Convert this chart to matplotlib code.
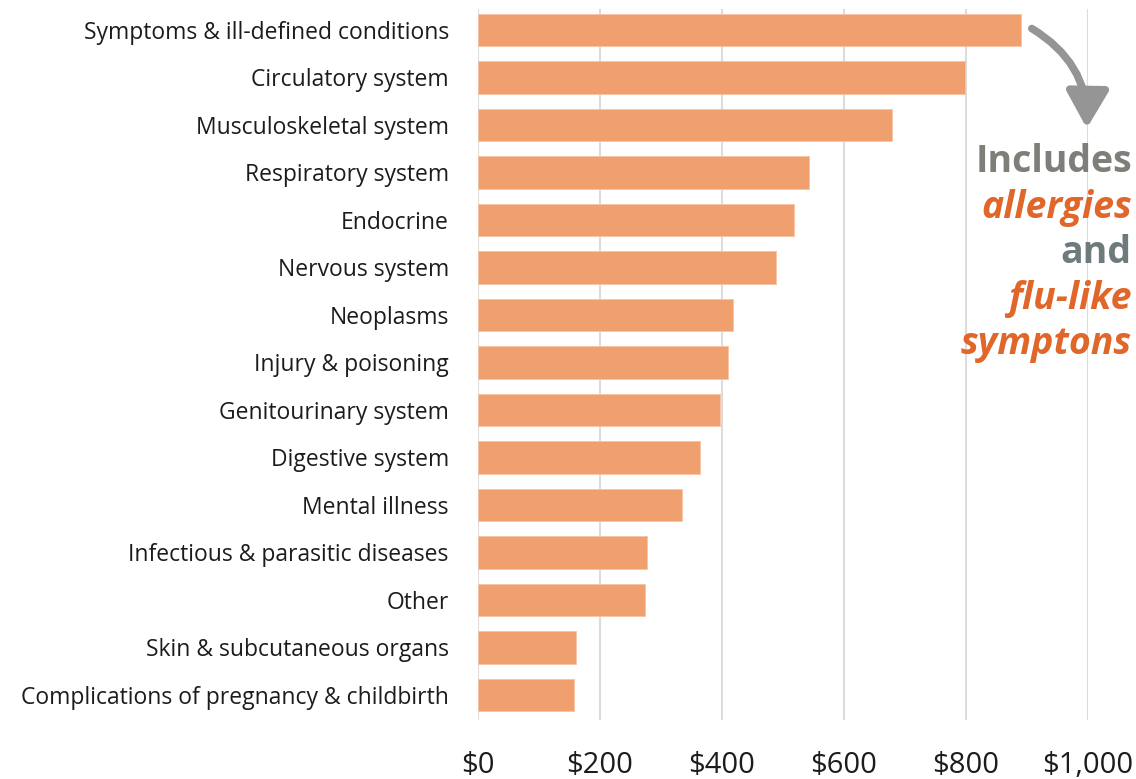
import matplotlib
matplotlib.use("Agg")
import matplotlib.pyplot as plt
from matplotlib.patches import FancyArrowPatch
from matplotlib.ticker import FuncFormatter

categories = [
    "Symptoms & ill-defined conditions",
    "Circulatory system",
    "Musculoskeletal system",
    "Respiratory system",
    "Endocrine",
    "Nervous system",
    "Neoplasms",
    "Injury & poisoning",
    "Genitourinary system",
    "Digestive system",
    "Mental illness",
    "Infectious & parasitic diseases",
    "Other",
    "Skin & subcutaneous organs",
    "Complications of pregnancy & childbirth",
]
spending = [891, 799, 678, 543, 518, 489, 418, 410, 397, 364, 335, 277, 273, 161, 157]
x_ticks = [0, 200, 400, 600, 800, 1000]

note_lines = ["Includes", "allergies", "and", "flu-like", "symptons"]
note_colors = ["#7d7f78", "#e0662a", "#6d7b7d", "#e0662a", "#e0662a"]
note_styles = ["normal", "italic", "normal", "italic", "italic"]

BAR = "#efa06e"
GRID = "#dcdcdc"
TEXT = "#1c1c1c"

fig = plt.figure(figsize=(11.36, 7.79), dpi=100)
ax = fig.add_axes([0.4208, 0.0757, 0.5369, 0.9127])

ypos = list(range(len(categories)))
ax.barh(ypos, spending, height=0.68, color=BAR, edgecolor="#f6c4a4", linewidth=0.6, zorder=2)

ax.set_xlim(0, 1000)
ax.set_ylim(14.53, -0.44)
ax.set_xticks(x_ticks)
ax.xaxis.set_major_formatter(FuncFormatter(lambda v, p: f"${v:,.0f}"))
ax.set_yticks(ypos)
ax.set_yticklabels(categories)

ax.grid(axis="x", color=GRID, linewidth=1.5, zorder=0)
ax.set_axisbelow(True)
for s in ax.spines.values():
    s.set_visible(False)

ax.tick_params(axis="x", length=0, pad=22, labelsize=21, labelcolor=TEXT)
ax.tick_params(axis="y", length=0, pad=21, labelsize=16.5, labelcolor=TEXT)
for lab in ax.get_xticklabels() + ax.get_yticklabels():
    lab.set_fontfamily("Open Sans")

# curved callout arrow from the top bar toward the note
arrow = FancyArrowPatch(
    (904, -0.06), (998, 2.13),
    connectionstyle="arc3,rad=-0.3",
    arrowstyle="-|>,head_length=14,head_width=8",
    color="#959595", linewidth=5.5, mutation_scale=1.6,
    clip_on=False, zorder=5,
)
ax.add_patch(arrow)

y0 = 2.78
step = 0.96
for i, (txt, col, sty) in enumerate(zip(note_lines, note_colors, note_styles)):
    ax.text(1072, y0 + i * step, txt, ha="right", va="center",
            fontsize=27, fontweight="bold", fontstyle=sty, color=col,
            fontfamily="Open Sans", clip_on=False)

fig.savefig("out.png", dpi=100)
